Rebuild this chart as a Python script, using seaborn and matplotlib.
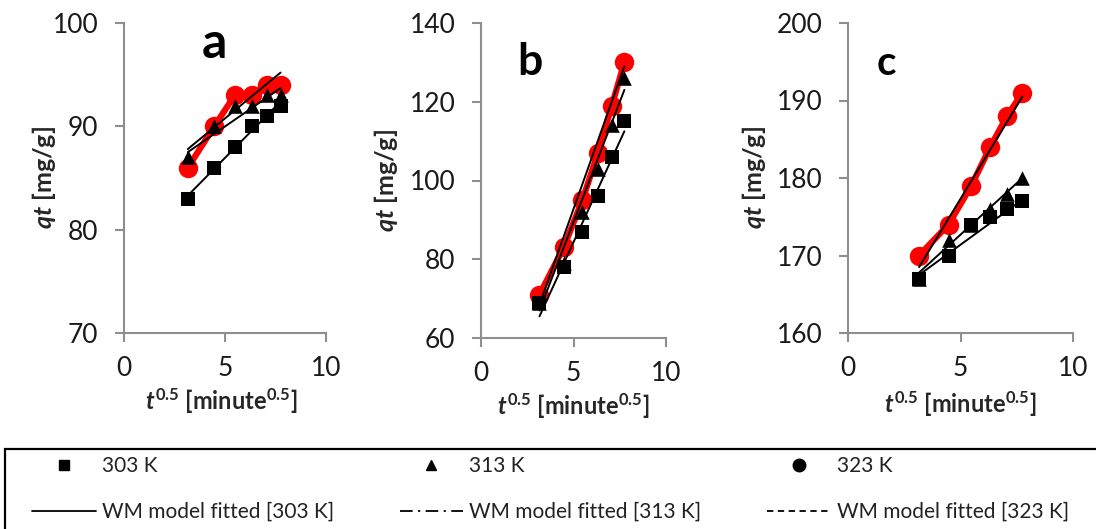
import numpy as np
import pandas as pd
import matplotlib
matplotlib.use("Agg")
import matplotlib.pyplot as plt
from matplotlib.lines import Line2D
from matplotlib.patches import Rectangle
import seaborn as sns

# ---------------- data ----------------
sqrt_t = [3.16, 4.47, 5.48, 6.32, 7.07, 7.75]

a_303 = [83, 86, 88, 90, 91, 92]
a_313 = [87, 90, 92, 92, 93, 93]
a_323 = [86, 90, 93, 93, 94, 94]
a_fit_303 = [83.3, 92.4]
a_fit_313 = [87.5, 93.7]
a_fit_323 = [87.8, 95.2]

b_303 = [69, 78, 87, 96, 106, 115]
b_313 = [69, 79, 92, 103, 114, 126]
b_323 = [71, 83, 95, 107, 119, 130]
b_fit_303 = [65.5, 112.5]
b_fit_313 = [67.0, 123.0]
b_fit_323 = [68.5, 129.0]

c_303 = [167, 170, 174, 175, 176, 177]
c_313 = [167, 172, 174, 176, 178, 180]
c_323 = [170, 174, 179, 184, 188, 191]
c_fit_303 = [167.5, 177.2]
c_fit_313 = [167.8, 180.0]
c_fit_323 = [168.5, 190.5]

panel_letters = ["a", "b", "c"]
y_limits = [(70, 100), (60, 140), (160, 200)]
y_steps = [10, 20, 10]
x_ticks = [0, 5, 10]
legend_labels = ["303 K", "313 K", "323 K",
                 "WM model fitted [303 K]", "WM model fitted [313 K]", "WM model fitted [323 K]"]

# ---------------- style ----------------
sns.set_style("white")
plt.rcParams["font.family"] = ["Lato", "DejaVu Sans"]
plt.rcParams["mathtext.fontset"] = "custom"
plt.rcParams["mathtext.rm"] = "Lato:bold"
plt.rcParams["mathtext.bf"] = "Lato:bold"
plt.rcParams["mathtext.it"] = "Lato:italic:bold"
plt.rcParams["mathtext.bfit"] = "Lato:italic:bold"

W, H = 1096, 529
fig = plt.figure(figsize=(W / 100, H / 100), dpi=100)

# axes boxes in pixels (left, top, right, bottom)
boxes = [(124, 23, 326, 333), (481, 23, 666, 338), (848, 23, 1073, 333)]
letter_pos = [(0.45, 0.887, 36), (0.265, 0.835, 32), (0.169, 0.832, 29)]
ylabel_x = [-0.327, -0.438, -0.356]
xlabel_xy = [(0.48, -0.172), (0.50, -0.168), (0.498, -0.182)]

panels = [
    (a_303, a_313, a_323, a_fit_303, a_fit_313, a_fit_323),
    (b_303, b_313, b_323, b_fit_303, b_fit_313, b_fit_323),
    (c_303, c_313, c_323, c_fit_303, c_fit_313, c_fit_323),
]

spine_gray = "#8f8f8f"
x_ends = [sqrt_t[0], sqrt_t[-1]]

for i, (box, pdata) in enumerate(zip(boxes, panels)):
    l, t, r, b = box
    ax = fig.add_axes([l / W, 1 - b / H, (r - l) / W, (b - t) / H])
    s303, s313, s323, f303, f313, f323 = pdata
    df = pd.DataFrame({"x": sqrt_t, "y303": s303, "y313": s313, "y323": s323})
    fdf = pd.DataFrame({"x": x_ends, "f303": f303, "f313": f313, "f323": f323})

    sns.lineplot(data=df, x="x", y="y323", ax=ax, color="#ff0000", lw=4.5,
                 marker="o", markersize=14, markeredgewidth=0, zorder=2)
    sns.scatterplot(data=df, x="x", y="y313", ax=ax, color="black", marker="^",
                    s=110, linewidth=0, zorder=3)
    sns.scatterplot(data=df, x="x", y="y303", ax=ax, color="black", marker="s",
                    s=95, linewidth=0, zorder=3)
    for col in ["f303", "f313", "f323"]:
        sns.lineplot(data=fdf, x="x", y=col, ax=ax, color="black", lw=1.4, zorder=4)

    lo, hi = y_limits[i]
    ax.set_xlim(0, 10)
    ax.set_ylim(lo, hi)
    ax.set_xticks(x_ticks)
    ax.set_yticks(np.arange(lo, hi + 1, y_steps[i]))
    for side in ["top", "right"]:
        ax.spines[side].set_visible(False)
    for side in ["left", "bottom"]:
        ax.spines[side].set_color(spine_gray)
        ax.spines[side].set_linewidth(1.5)
    ax.tick_params(axis="both", direction="out", length=6.5, width=1.5,
                   color=spine_gray, labelsize=19, labelcolor="#1a1a1a",
                   left=True, bottom=True)
    ax.tick_params(axis="y", pad=12)
    ax.tick_params(axis="x", pad=10)
    ax.set_xlabel(r"$\mathit{t}^{\mathit{0.5}}$ [minute$^{\mathbf{0.5}}$]",
                  fontsize=17, fontweight="bold")
    ax.set_ylabel(r"$\mathit{qt}$ [mg/g]", fontsize=18, fontweight="bold")
    ax.yaxis.set_label_coords(ylabel_x[i], 0.5)
    ax.xaxis.set_label_coords(*xlabel_xy[i])
    lx, ly, lsz = letter_pos[i]
    ax.text(lx, ly, panel_letters[i], transform=ax.transAxes, fontsize=lsz,
            fontweight="bold", ha="center", va="baseline", color="black")

# ---------------- legend ----------------
fig.patches.append(Rectangle((5 / W, -0.05), 1.2, 1 - 449 / H + 0.05,
                             transform=fig.transFigure, fill=False,
                             edgecolor="black", linewidth=1.6, zorder=0))
h303 = Line2D([], [], color="black", marker="s", ls="none", markersize=7)
h313 = Line2D([], [], color="black", marker="^", ls="none", markersize=6.5)
h323 = Line2D([], [], color="black", marker="o", ls="none", markersize=9)
hf303 = Line2D([], [], color="black", lw=1.3, ls="-")
hf313 = Line2D([], [], color="black", lw=1.3, ls=(0, (7, 3, 1.2, 3)))
hf323 = Line2D([], [], color="black", lw=1.3, ls=(0, (3.5, 2.5)))
handles = [h303, hf303, h313, hf313, h323, hf323]
labels = [legend_labels[0], legend_labels[3], legend_labels[1],
          legend_labels[4], legend_labels[2], legend_labels[5]]
leg = fig.legend(handles, labels, ncol=3, loc="upper left",
                 bbox_to_anchor=(32 / W, 1 - 456 / H),
                 borderaxespad=0, frameon=False, borderpad=0,
                 fontsize=15, handlelength=3.05, handletextpad=0.3,
                 labelspacing=1.25, columnspacing=3.15)
for txt in leg.get_texts():
    txt.set_color("#222222")

fig.savefig("out.png", dpi=100)
